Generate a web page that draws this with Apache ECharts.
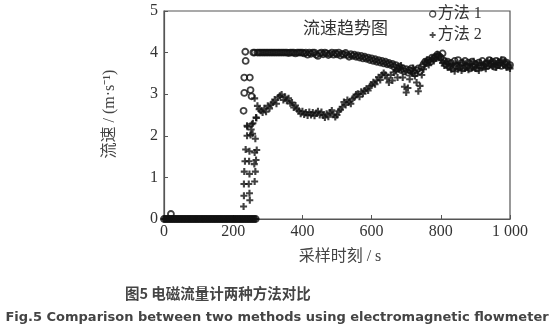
<!DOCTYPE html>
<html>
<head>
<meta charset="utf-8">
<script src="https://cdn.jsdelivr.net/npm/echarts@6/dist/echarts.min.js"></script>
<style>
html,body{margin:0;padding:0;background:#fff;}
#chart{width:554px;height:333px;}
</style>
</head>
<body>
<div id="chart"></div>
<script>
// sampling times (s)
const sampleTimes = [
0,5,10,15,20,25,30,35,40,45,50,55,60,65,70,75,80,85,90,95,
100,105,110,115,120,125,130,135,140,145,150,155,160,165,170,175,180,185,190,195,
200,205,210,215,220,225,230,235,240,245,250,255,260,265,
270,275,280,285,290,295,300,305,310,315,320,325,330,335,340,345,
350,355,360,365,370,375,380,385,390,395,400,405,410,415,420,425,
430,435,440,445,450,455,460,465,470,475,480,485,490,495,500,505,
510,515,520,525,530,535,540,545,550,555,560,565,570,575,580,585,
590,595,600,605,610,615,620,625,630,635,640,645,650,655,660,665,
670,675,680,685,690,695,700,705,710,715,720,725,730,735,740,745,
750,755,760,765,770,775,780,785,790,795,800,805,810,815,820,825,
830,835,840,845,850,855,860,865,870,875,880,885,890,895,900,905,
910,915,920,925,930,935,940,945,950,955,960,965,970,975,980,985,
990,995,1000
];
// 方法1 flow velocity (m/s)
const method1Values = [
0,0,0,0,0,0,0,0,0,0,0,0,0,0,0,0,0,0,0,0,
0,0,0,0,0,0,0,0,0,0,0,0,0,0,0,0,0,0,0,0,
0,0,0,0,0,0,0,0,0,0,0,0,0,0,
4.0,4.0,4.0,4.0,4.0,4.0,4.0,4.0,4.0,4.0,4.0,4.0,4.0,4.0,4.0,4.0,
4.0,4.0,3.99,4.0,4.0,4.0,3.98,4.0,4.0,4.0,4.0,3.98,4.0,3.95,4.0,3.97,
4.0,4.0,3.95,3.92,3.98,4.0,3.96,4.0,3.98,3.94,3.97,4.0,3.95,3.99,3.96,4.0,
3.93,3.97,3.95,3.99,3.94,3.9,3.96,3.92,3.95,3.9,3.93,3.88,3.92,3.86,3.9,3.85,
3.88,3.82,3.86,3.8,3.84,3.78,3.82,3.76,3.8,3.74,3.78,3.72,3.75,3.7,3.73,3.66,
3.7,3.62,3.66,3.58,3.62,3.55,3.6,3.52,3.58,3.62,3.55,3.5,3.58,3.62,3.55,3.65,
3.72,3.78,3.75,3.82,3.78,3.88,3.85,3.9,3.95,3.92,3.88,3.98,3.8,3.72,3.78,3.66,
3.75,3.62,3.8,3.68,3.82,3.65,3.75,3.62,3.8,3.66,3.76,3.62,3.78,3.66,3.72,3.62,
3.76,3.68,3.8,3.66,3.74,3.68,3.82,3.72,3.78,3.66,3.8,3.7,3.76,3.68,3.82,3.72,
3.76,3.66,3.7
];
// 方法2 flow velocity (m/s)
const method2Values = [
0,0,0,0,0,0,0,0,0,0,0,0,0,0,0,0,0,0,0,0,
0,0,0,0,0,0,0,0,0,0,0,0,0,0,0,0,0,0,0,0,
0,0,0,0,0,0,0,0,0,0,0,0,0,0,
2.72,2.64,2.6,2.56,2.66,2.58,2.72,2.66,2.76,2.8,2.87,2.77,2.92,2.96,2.99,2.86,
2.94,2.84,2.9,2.78,2.8,2.68,2.73,2.64,2.6,2.53,2.59,2.51,2.56,2.49,2.57,2.5,
2.56,2.48,2.55,2.59,2.5,2.57,2.49,2.44,2.53,2.46,2.56,2.61,2.51,2.45,2.5,2.59,
2.63,2.7,2.81,2.74,2.86,2.81,2.77,2.89,2.92,2.99,3.01,2.94,3.06,3.01,3.09,3.13,
3.09,3.19,3.21,3.29,3.24,3.33,3.41,3.34,3.46,3.51,3.47,3.38,3.28,3.46,3.33,3.52,
3.56,3.4,3.61,3.69,3.4,3.18,3.04,3.15,3.36,3.51,3.63,3.44,3.28,3.07,3.2,3.46,
3.6,3.75,3.83,3.7,3.79,3.86,3.8,3.88,3.96,3.9,3.82,3.75,3.69,3.79,3.64,3.73,
3.6,3.71,3.55,3.73,3.6,3.69,3.57,3.76,3.62,3.71,3.59,3.73,3.64,3.79,3.62,3.71,
3.57,3.76,3.64,3.71,3.61,3.79,3.69,3.81,3.67,3.73,3.64,3.79,3.69,3.83,3.71,3.79,
3.64,3.71,3.62
];
// extra irregular samples during the start-up transition [time, value]
const method1Extra = [
[20,0.12],[235,4.02],[236,3.8],[232,3.4],[248,3.4],[232,3.03],[250,3.1],[253,2.95],[230,2.6],[258,4.0],[262,4.0]
];
const method2Extra = [
[230,0.30],[231,0.56],[247,0.62],[248,0.45],[231,0.84],[245,0.84],[262,0.9],[232,1.14],[247,1.08],[264,1.14],
[234,1.39],[246,1.39],[261,1.32],[266,1.42],[236,1.67],[247,1.63],[262,1.6],[268,1.66],[240,2.0],[250,2.02],
[264,1.93],[240,2.24],[254,2.28],[256,2.05],[266,2.44],[252,2.15],[257,2.3],[267,2.43],[262,2.9],[241,2.22]
];
const xTickValues = [0,200,400,600,800,1000];
const xTickLabels = ['0','200','400','600','800','1 000'];
const seriesNames = ['方法 1','方法 2'];

function pairs(t, v){ return t.map((x,i)=>[x, v[i]]); }
const plusPath = 'path://M2.8,0H5.2V2.8H8V5.2H5.2V8H2.8V5.2H0V2.8H2.8Z';

const chart = echarts.init(document.getElementById('chart'), null, {renderer:'canvas'});
const serif = "'Liberation Serif','DejaVu Serif','Noto Sans CJK SC',serif";
chart.setOption({
  animation:false,
  backgroundColor:'#fff',
  grid:{left:164,right:44,top:11,bottom:114,show:true,borderColor:'#555',borderWidth:1.2},
  xAxis:{type:'value',min:0,max:1000,interval:200,
    axisLine:{lineStyle:{color:'#555',width:1.2}},
    axisTick:{inside:true,length:4,lineStyle:{color:'#555'}},
    splitLine:{show:false},
    axisLabel:{color:'#333',fontFamily:serif,fontSize:16,margin:5,
      formatter:v=>{const i=xTickValues.indexOf(v);return i>=0?xTickLabels[i]:'';}}
  },
  yAxis:{type:'value',min:0,max:5,interval:1,
    axisLine:{lineStyle:{color:'#555',width:1.2}},
    axisTick:{inside:true,length:4,lineStyle:{color:'#555'}},
    splitLine:{show:false},
    axisLabel:{color:'#333',fontFamily:serif,fontSize:16,margin:6}
  },
  legend:{orient:'vertical',left:424,top:1,itemWidth:6,itemHeight:6,itemGap:5,
    textStyle:{color:'#333',fontSize:16,fontFamily:serif,padding:[0,0,0,-3]},
    data:[
      {name:seriesNames[0],icon:'circle',itemStyle:{color:'transparent',borderColor:'#222',borderWidth:1.3}},
      {name:seriesNames[1],icon:plusPath,itemStyle:{color:'#222'}}
    ]
  },
  graphic:[
    {type:'text',left:303,top:19,style:{text:'流速趋势图',fill:'#333',font:"17px 'Noto Sans CJK SC'"}},
    {type:'text',x:110,y:114,rotation:Math.PI/2,style:{text:'流速 / (m·s⁻¹)',fill:'#444',font:"16px 'Liberation Serif','Noto Sans CJK SC'",textAlign:'center',textVerticalAlign:'middle'}},
    {type:'text',x:340,y:257,style:{text:'采样时刻 / s',fill:'#444',font:"16px 'Liberation Serif','Noto Sans CJK SC'",textAlign:'center',textVerticalAlign:'middle'}},
    {type:'text',x:125,y:293,style:{text:'图5 电磁流量计两种方法对比',fill:'#444',font:"bold 14.5px 'Noto Sans CJK SC'",textAlign:'left',textVerticalAlign:'middle'}},
    {type:'text',x:277,y:318,style:{text:'Fig.5 Comparison between two methods using electromagnetic flowmeter',fill:'#444',font:"bold 13px 'DejaVu Sans'",textAlign:'center',textVerticalAlign:'middle'}}
  ],
  series:[
    {name:seriesNames[0],type:'scatter',symbol:'circle',symbolSize:6,
      itemStyle:{color:'transparent',borderColor:'#111',borderWidth:1.8},
      data:pairs(sampleTimes,method1Values).concat(method1Extra)},
    {name:seriesNames[1],type:'scatter',symbol:plusPath,symbolSize:7,
      itemStyle:{color:'#111'},
      data:pairs(sampleTimes,method2Values).concat(method2Extra)}
  ]
});
</script>
</body>
</html>
